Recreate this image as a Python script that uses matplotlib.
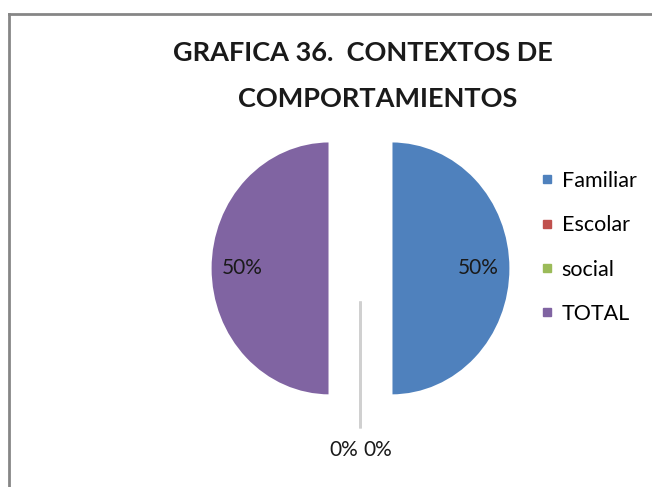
import matplotlib
matplotlib.use("Agg")
import matplotlib.pyplot as plt
from matplotlib.lines import Line2D
import numpy as np

categories = ["Familiar", "Escolar", "social", "TOTAL"]
values = [50, 0, 0, 50]
pct_labels = ["50%", "0%", "0%", "50%"]
colors = ["#4F81BD", "#C0504D", "#9BBB59", "#8064A2"]
title_lines = ["GRAFICA 36.  CONTEXTOS DE", "COMPORTAMIENTOS"]

W, H = 652, 487
fig = plt.figure(figsize=(W / 100, H / 100), dpi=100)
fig.patch.set_facecolor("white")

# chart border (cropped at right/bottom)
fig.add_artist(Line2D([9 / W, 1.0], [1 - 14 / H, 1 - 14 / H], transform=fig.transFigure,
                      color="#868686", lw=2.0))
fig.add_artist(Line2D([9 / W, 9 / W], [1 - 14 / H, 0.0], transform=fig.transFigure,
                      color="#868686", lw=2.0))

# axes: horizontal unit = 119 px, vertical unit = 127 px, centered at (360.5, 268.4)
rx, ry = 119.0, 127.0
cx, cy = 360.5, H - 268.4
lim = 1.6
aw, ah = 2 * lim * rx, 2 * lim * ry
ax = fig.add_axes([(cx - aw / 2) / W, (cy - ah / 2) / H, aw / W, ah / H])

explode = [0.26] * len(values)
wedges, _ = ax.pie(values, colors=colors, startangle=90, counterclock=False,
                   explode=explode, radius=1.0,
                   wedgeprops=dict(edgecolor="white", linewidth=1.5))
for w, v in zip(wedges, values):
    if v == 0:
        w.set_edgecolor("#d0d0d0")
        w.set_linewidth(2.0)
ax.set_aspect("auto")
ax.set_xlim(-lim, lim)
ax.set_ylim(-lim, lim)
ax.axis("off")

font = "Lato"
zero_count = 0
for w, v, lab in zip(wedges, values, pct_labels):
    theta = np.deg2rad((w.theta1 + w.theta2) / 2)
    ox, oy = w.center
    if v > 0:
        d = 0.73
        ax.text(ox + d * np.cos(theta), oy + d * np.sin(theta), lab, ha="center", va="center",
                fontsize=15, family=font, color="#1a1a1a")
    else:
        d = 1.17
        ha = "right" if zero_count == 0 else "left"
        dx = -0.02 if zero_count == 0 else 0.02
        ax.text(ox + d * np.cos(theta) + dx, oy + d * np.sin(theta), lab, ha=ha, va="center",
                fontsize=15, family=font, color="#1a1a1a")
        zero_count += 1

fig.text(363 / W, 1 - 53 / H, title_lines[0], ha="center", va="center", fontsize=19.5,
         fontweight="bold", family=font, color="#1a1a1a")
fig.text(378 / W, 1 - 99 / H, title_lines[1], ha="center", va="center", fontsize=19.5,
         fontweight="bold", family=font, color="#1a1a1a")

handles = [Line2D([], [], marker="s", linestyle="none", markersize=6, markerfacecolor=c,
                  markeredgecolor=c) for c in colors]
fig.legend(handles, categories, loc="upper left", bbox_to_anchor=(537 / W, 1 - 171 / H),
           frameon=False, prop=dict(family=font, size=15.5), labelspacing=1.13,
           handletextpad=0.25, handlelength=0.9, borderpad=0, borderaxespad=0)

fig.savefig("out.png", dpi=100, facecolor="white")
